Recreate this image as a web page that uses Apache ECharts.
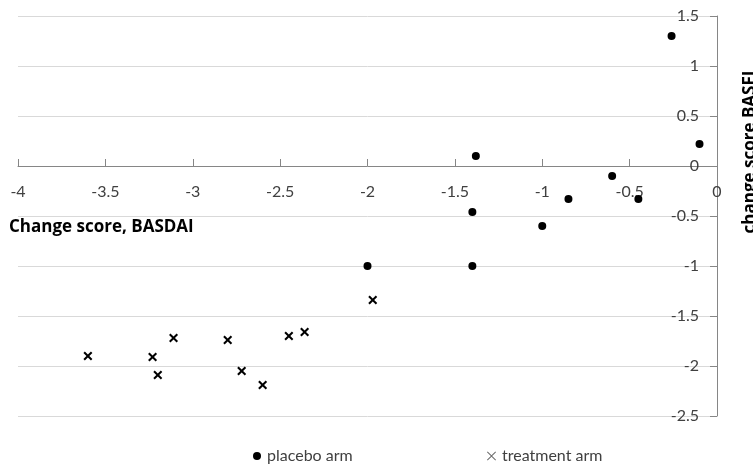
<!DOCTYPE html>
<html>
<head>
<meta charset="utf-8">
<script src="https://cdn.jsdelivr.net/npm/echarts@6/dist/echarts.min.js"></script>
<style>
  html, body { margin: 0; padding: 0; background: #fff; }
  #chart { width: 753px; height: 468px; }
</style>
</head>
<body>
<div id="chart"></div>
<script>
// placebo arm: [BASDAI change, BASFI change]
const placeboX = [-0.26, -0.1, -0.6, -0.45, -1.38, -1.4, -0.85, -1.0, -2.0, -1.4]
const placeboY = [1.3, 0.22, -0.1, -0.33, 0.1, -0.46, -0.33, -0.6, -1.0, -1.0]

// treatment arm
const treatmentX = [-3.6, -3.23, -3.2, -3.11, -2.8, -2.72, -2.6, -2.45, -2.36, -1.97]
const treatmentY = [-1.9, -1.91, -2.09, -1.72, -1.74, -2.05, -2.19, -1.7, -1.66, -1.34]

const seriesNames = ['placebo arm', 'treatment arm']
const xAxisName = 'Change score, BASDAI'
const yAxisName = 'change score BASFI'

const FONT = 'Lato, "Liberation Sans", sans-serif'
const NAME_FONT = '"Open Sans", "Liberation Sans", sans-serif'
const TEXT_COLOR = '#404040'
const AXIS_COLOR = '#868686'

const CROSS_BOLD = 'path://M0,1.6L1.6,0L5,3.4L8.4,0L10,1.6L6.6,5L10,8.4L8.4,10L5,6.6L1.6,10L0,8.4L3.4,5Z'
const CROSS_THIN = 'path://M0,0.7L0.7,0L5,4.3L9.3,0L10,0.7L5.7,5L10,9.3L9.3,10L5,5.7L0.7,10L0,9.3L4.3,5Z'

function zip(xs, ys) {
  return xs.map((x, i) => [x, ys[i]])
}

const chart = echarts.init(document.getElementById('chart'), undefined, { renderer: 'canvas' })

chart.setOption({
  animation: false,
  textStyle: { fontFamily: FONT },
  grid: { left: 18, right: 36, top: 16, bottom: 52 },
  xAxis: {
    type: 'value',
    min: -4,
    max: 0,
    interval: 0.5,
    // axis crosses at y = 0, which is 250px above the plot bottom
    offset: -250,
    axisLine: { onZero: false, lineStyle: { color: AXIS_COLOR, width: 1 } },
    axisTick: { inside: true, length: 7, lineStyle: { color: AXIS_COLOR } },
    axisLabel: { color: TEXT_COLOR, fontSize: 16, margin: 18, fontFamily: FONT },
    splitLine: { show: false }
  },
  yAxis: {
    type: 'value',
    position: 'right',
    min: -2.5,
    max: 1.5,
    interval: 0.5,
    axisLine: { show: true, onZero: false, lineStyle: { color: AXIS_COLOR, width: 1 } },
    axisTick: { show: true, inside: true, length: 7, lineStyle: { color: AXIS_COLOR } },
    axisLabel: { inside: true, color: TEXT_COLOR, fontSize: 16, margin: 18, fontFamily: FONT },
    splitLine: { show: true, lineStyle: { color: '#d9d9d9', width: 1 } }
  },
  legend: [
    {
      left: 248,
      top: 443,
      itemWidth: 8,
      itemHeight: 8,
      textStyle: { color: TEXT_COLOR, fontSize: 16, fontFamily: FONT, padding: [0, 0, 0, 1] },
      data: [{ name: seriesNames[0], icon: 'circle', itemStyle: { color: '#000' } }]
    },
    {
      left: 482,
      top: 443,
      itemWidth: 9,
      itemHeight: 9,
      textStyle: { color: TEXT_COLOR, fontSize: 16, fontFamily: FONT, padding: [0, 0, 0, 1] },
      data: [{ name: seriesNames[1], icon: CROSS_THIN, itemStyle: { color: '#666' } }]
    }
  ],
  series: [
    {
      name: seriesNames[0],
      type: 'scatter',
      symbol: 'circle',
      symbolSize: 8,
      itemStyle: { color: '#000', opacity: 1 },
      data: zip(placeboX, placeboY)
    },
    {
      name: seriesNames[1],
      type: 'scatter',
      symbol: CROSS_BOLD,
      symbolSize: 9,
      itemStyle: { color: '#000', opacity: 1 },
      data: zip(treatmentX, treatmentY)
    }
  ],
  graphic: [
    {
      type: 'text',
      left: 9,
      top: 219,
      style: {
        text: xAxisName,
        fill: '#000',
        font: 'bold 17px ' + NAME_FONT
      }
    },
    {
      type: 'text',
      x: 750,
      y: 152,
      rotation: Math.PI / 2,
      style: {
        text: yAxisName,
        fill: '#000',
        font: 'bold 17px ' + NAME_FONT,
        align: 'center',
        verticalAlign: 'middle'
      }
    }
  ]
})
</script>
</body>
</html>
